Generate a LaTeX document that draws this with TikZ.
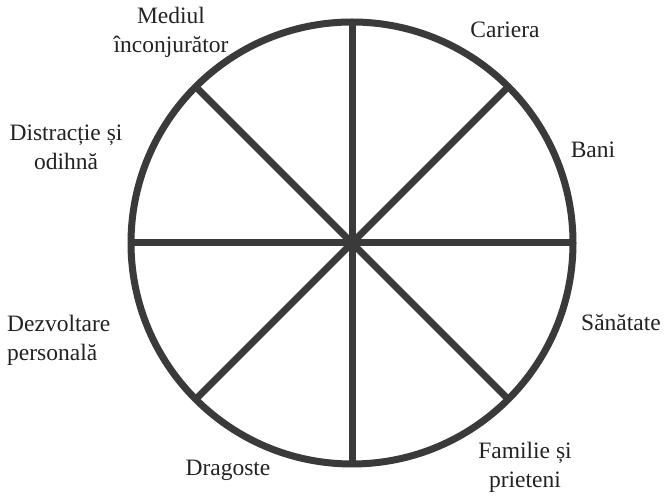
\documentclass[tikz,border=0pt]{standalone}
\usepackage{fontspec}
\setmainfont{Liberation Serif}
\usetikzlibrary{calc}
\definecolor{wheelgray}{HTML}{3A3A3A}
\definecolor{labelgray}{HTML}{222222}
\tikzset{
  spoke/.style={line width=7pt,wheelgray},
  area/.style={text=labelgray,align=center,font=\fontsize{23.5}{29}\selectfont,inner sep=0pt}
}
\begin{document}
\begin{tikzpicture}[x=1pt,y=1pt]
\useasboundingbox (0,0) rectangle (664,500);
\coordinate (c) at (352,257);
\foreach \a in {0,45,...,315}{
  \coordinate (r\a) at ($(c)+(\a:221)$);
  \draw[spoke] (c)--(r\a);
}
\draw[spoke] (c) circle (221);
\node[area] (mediu) at (171,468) {Mediul\\înconjurător};
\node[area] (cariera) at (505,470) {Cariera};
\node[area] (distractie) at (66,353) {Distracție și\\odihnă};
\node[area] (bani) at (593,350) {Bani};
\node[area,align=left,anchor=west] (dezvoltare) at (7,160) {Dezvoltare\\personală};
\node[area] (sanatate) at (621,177) {Sănătate};
\node[area] (dragoste) at (228,30) {Dragoste};
\node[area] (familie) at (525,33) {Familie și\\prieteni};
\end{tikzpicture}
\end{document}
